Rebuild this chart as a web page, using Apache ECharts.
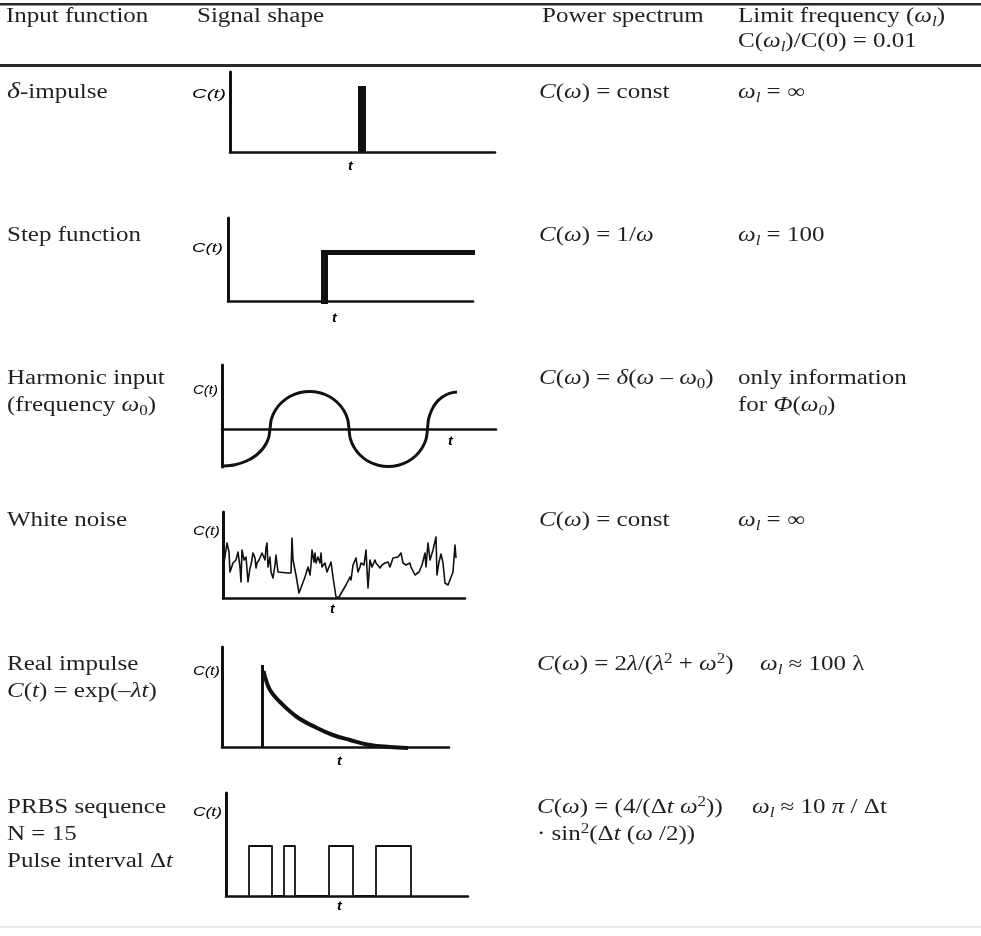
<!DOCTYPE html>
<html>
<head>
<meta charset="utf-8">
<script src="https://cdn.jsdelivr.net/npm/echarts@6/dist/echarts.min.js"></script>
<style>
  html, body { margin: 0; padding: 0; background: #fff; }
  #chart { width: 981px; height: 936px; }
</style>
</head>
<body>
<div id="chart"></div>
<script>
// ---------- signal sketches: [t, C(t)] in each sketch's own axis units ----------
const deltaSpike = [[132, -1], [132, 66]];
const stepRise = [[96.5, -3], [96.5, 51]];
const stepLevel = [[96.5, 48.5], [247, 48.5]];
const harmonicWave = [
  [1, -37], [13.2, -35.7], [24.5, -32], [34.2, -26.2], [41.7, -18.5], [46.4, -9.6], [48, 0],
  [49.3, 9.7], [53.3, 18.8], [59.6, 26.5], [67.8, 32.5], [77.3, 36.2], [87.5, 37.5], [97.7, 36.2],
  [107.3, 32.5], [115.4, 26.5], [121.7, 18.8], [125.7, 9.7], [127, 0],
  [128.3, -9.7], [132.3, -18.8], [138.5, -26.5], [146.6, -32.5], [156.1, -36.2], [166.3, -37.5], [176.4, -36.2],
  [185.9, -32.5], [194, -26.5], [200.2, -18.8], [204.2, -9.7], [205.5, 0],
  [206.5, 9.6], [209.5, 18.5], [214.1, 26.2], [220.3, 32], [227.4, 35.7], [235, 37]
];
const whiteNoise = [
  [1, 35], [4, 55], [6, 46], [7, 26], [10, 35], [13, 38], [15, 46], [17, 31], [18, 16], [19, 48], [21, 38],
  [23, 41], [25, 16], [27, 30], [28, 33], [30, 45], [32, 40], [33, 30], [34, 35], [36, 38], [37, 36], [39, 45],
  [42, 38], [43, 50], [44, 55], [45, 31], [47, 41], [48, 26], [50, 20], [52, 33], [53, 43], [55, 26], [57, 25],
  [65, 25], [68, 25], [69, 60], [70, 38], [73, 23], [76, 5], [82, 21], [85, 31], [87, 23], [88, 33], [89, 48],
  [91, 36], [92, 45], [93, 35], [95, 41], [97, 35], [98, 45], [99, 31], [102, 35], [104, 26], [106, 26],
  [108, 36], [110, 21], [113, 1], [116, 1], [123, 13], [127, 21], [128, 18], [130, 33], [133, 40], [135, 26],
  [137, 31], [138, 35], [141, 33], [143, 48], [145, 10], [147, 38], [149, 31], [152, 38], [153, 35], [157, 30],
  [159, 33], [162, 35], [165, 36], [167, 31], [170, 40], [175, 41], [178, 45], [180, 35], [183, 33], [187, 35],
  [188, 31], [192, 23], [196, 26], [199, 33], [202, 45], [203, 31], [205, 55], [207, 38], [210, 48], [213, 61],
  [214, 23], [216, 36], [218, 44], [220, 35], [222, 15], [225, 13], [230, 26], [232, 53], [233, 40]
];
const realImpulseEdge = [[40.5, 0], [40.5, 82]];
const realImpulseDecay = [
  [41.5, 76], [43, 70], [48, 57], [58, 45], [75, 30], [95, 19], [111, 12], [128, 7], [148, 2], [168, 0], [186, -1]
];
const prbsPulses = [[23, 46], [58, 69], [103, 127], [150, 185]];
const prbsLevel = 50;

// ---------- table text ----------
const headerTitles = ['Input function', 'Signal shape', 'Power spectrum', 'Limit frequency ({i|ω}{si|l})'];
const headerSubtitle = 'C({i|ω}{si|l})/C(0) = 0.01';
const inputFunctions = [
  ['{b|δ}-impulse'],
  ['Step function'],
  ['Harmonic input', '(frequency {i|ω}{s|0})'],
  ['White noise'],
  ['Real impulse', '{i|C}({i|t}) = exp(–{i|λt})'],
  ['PRBS sequence', 'N = 15', 'Pulse interval Δ{i|t}']
];
const powerSpectra = [
  ['{i|C}({i|ω}) = const'],
  ['{i|C}({i|ω}) = 1/{i|ω}'],
  ['{i|C}({i|ω}) = {i|δ}({i|ω} – {i|ω}{s|0})'],
  ['{i|C}({i|ω}) = const'],
  ['{i|C}({i|ω}) = 2{i|λ}/({i|λ}{p|2} + {i|ω}{p|2})'],
  ['{i|C}({i|ω}) = (4/(Δ{i|t} {i|ω}{p|2}))', '· sin{p|2}(Δ{i|t} ({i|ω} /2))']
];
const limitFrequencies = [
  ['{i|ω}{si|l} = ∞'],
  ['{i|ω}{si|l} = 100'],
  ['only information', 'for {i|Φ}({i|ω}{si|0})'],
  ['{i|ω}{si|l} = ∞'],
  ['{i|ω}{si|l} ≈ 100 λ'],
  ['{i|ω}{si|l} ≈ 10 {i|π} / Δt']
];
const axisNameC = 'C(t)';
const axisNameT = 't';

// ---------- layout ----------
const INK = '#231f20';
const LINE = '#111';
const SERIF = '"Liberation Serif", "Times New Roman", serif';
const SANS = '"Liberation Sans", Arial, sans-serif';
const rowBaselines = [99, 242, 385, 527, 671, 814];
const lineGap = 27;
const colX = [7, 539, 738];
const colIndent = [[0, 0, 0, 0, 0, 0], [0, 0, 0, 0, -2, -2], [0, 0, 0, 0, 22, 14]];

// sketch boxes: pixel box + axis ranges
const boxes = [
  { left: 230, top: 72, width: 265, height: 80, xMax: 265, yMin: 0, yMax: 80 },
  { left: 228, top: 218, width: 245, height: 83, xMax: 245, yMin: 0, yMax: 83 },
  { left: 222, top: 365, width: 274, height: 102, xMax: 274, yMin: -38, yMax: 64 },
  { left: 223, top: 512, width: 242, height: 86, xMax: 242, yMin: 0, yMax: 86 },
  { left: 222, top: 647, width: 227, height: 100, xMax: 227, yMin: 0, yMax: 100 },
  { left: 226, top: 793, width: 242, height: 103, xMax: 242, yMin: 0, yMax: 103 }
];
const cLabelPos = [[192, 94, 34], [192, 248, 31], [193, 390, 25], [193, 531, 27], [193, 671, 27], [193, 812, 29]];
const tLabelPos = [[348, 167], [332, 319], [448, 442], [330, 610], [337, 762], [337, 907]];

// ---------- text builder (markup: {i|..} italic, {s|..} sub, {si|..} italic sub, {p|..} sup, {b|..} large italic) ----------
const measureCtx = document.createElement('canvas').getContext('2d');
const KINDS = {
  n: { italic: false, scale: 1, shift: 0 },
  i: { italic: true, scale: 1, shift: 0 },
  b: { italic: true, scale: 1.12, shift: 0 },
  s: { italic: false, scale: 0.68, shift: 0.2 },
  si: { italic: true, scale: 0.68, shift: 0.2 },
  p: { italic: false, scale: 0.68, shift: -0.36 }
};
function parseMarkup(str) {
  const out = [];
  const re = /\{(\w+)\|([^}]*)\}/g;
  let last = 0, m;
  while ((m = re.exec(str))) {
    if (m.index > last) out.push(['n', str.slice(last, m.index)]);
    out.push([m[1], m[2]]);
    last = re.lastIndex;
  }
  if (last < str.length) out.push(['n', str.slice(last)]);
  return out;
}
function textLine(str, x, baseline, opts) {
  opts = opts || {};
  const size = opts.size || 20;
  const family = opts.family || SERIF;
  const weight = opts.bold ? 'bold ' : '';
  const children = [];
  let cx = 0;
  for (const [k, t] of parseMarkup(str)) {
    const kind = KINDS[k];
    const fs = size * kind.scale;
    const font = (kind.italic || opts.italic ? 'italic ' : '') + weight + fs + 'px ' + family;
    measureCtx.font = font;
    const w = measureCtx.measureText(t).width;
    children.push({
      type: 'text', x: cx, y: kind.shift * size - 0.32 * fs,
      style: { text: t, font: font, fill: opts.fill || INK, align: 'left', verticalAlign: 'middle' }
    });
    cx += w;
  }
  const scaleX = opts.width ? opts.width / cx : (opts.scaleX || 1.25);
  return { type: 'group', x: x, y: baseline, scaleX: scaleX, silent: true, children: children };
}

// ---------- graphic layer: rules and table text ----------
const graphic = [
  { type: 'rect', shape: { x: 0, y: 3, width: 981, height: 2.5 }, style: { fill: '#2a2a2a' }, silent: true },
  { type: 'rect', shape: { x: 0, y: 64, width: 981, height: 3 }, style: { fill: '#2a2a2a' }, silent: true },
  { type: 'rect', shape: { x: 0, y: 926.5, width: 981, height: 1 }, style: { fill: '#d4d4d4' }, silent: true }
];
const headerX = [6, 197, 542, 738];
headerTitles.forEach((t, i) => graphic.push(textLine(t, headerX[i], 23)));
graphic.push(textLine(headerSubtitle, 738, 48));

[inputFunctions, powerSpectra, limitFrequencies].forEach((col, ci) => {
  col.forEach((lines, ri) => {
    lines.forEach((t, li) => {
      graphic.push(textLine(t, colX[ci] + colIndent[ci][ri], rowBaselines[ri] + li * lineGap));
    });
  });
});

cLabelPos.forEach(([x, y, w]) => {
  graphic.push(textLine(axisNameC, x, y + 4, { size: 12, family: SANS, italic: true, width: w, fill: '#000' }));
});
tLabelPos.forEach(([x, y]) => {
  graphic.push(textLine(axisNameT, x, y + 4, { size: 13, family: SANS, italic: true, bold: true, scaleX: 1.1, fill: '#000' }));
});

// ---------- sketches ----------
const grids = [], xAxes = [], yAxes = [], series = [];
boxes.forEach((b, i) => {
  grids.push({ left: b.left, top: b.top, width: b.width, height: b.height, containLabel: false });
  const common = { gridIndex: i, axisTick: { show: false }, axisLabel: { show: false }, splitLine: { show: false } };
  xAxes.push(Object.assign({}, common, {
    type: 'value', min: 0, max: b.xMax,
    axisLine: { show: true, onZero: true, lineStyle: { color: LINE, width: 2.5 } }
  }));
  yAxes.push(Object.assign({}, common, {
    type: 'value', min: b.yMin, max: b.yMax,
    axisLine: { show: true, onZero: true, lineStyle: { color: LINE, width: 3 } }
  }));
});
function trace(idx, data, width, smooth) {
  series.push({
    type: 'line', xAxisIndex: idx, yAxisIndex: idx, data: data,
    symbol: 'none', clip: false, silent: true, animation: false, smooth: smooth || false,
    lineStyle: { color: LINE, width: width, cap: 'butt', join: 'round' }
  });
}
trace(0, deltaSpike, 8);
trace(1, stepRise, 7);
trace(1, stepLevel, 5);
trace(2, harmonicWave, 3, 0.3);
trace(3, whiteNoise, 1.6);
trace(4, realImpulseEdge, 3);
trace(4, realImpulseDecay, 4, 0.4);
const prbsTrace = [];
prbsPulses.forEach(([a, b]) => {
  prbsTrace.push([a, 0], [a, prbsLevel], [b, prbsLevel], [b, 0]);
});
trace(5, prbsTrace, 1.8);

const chart = echarts.init(document.getElementById('chart'), null, { renderer: 'canvas' });
chart.setOption({
  backgroundColor: '#fff',
  animation: false,
  grid: grids,
  xAxis: xAxes,
  yAxis: yAxes,
  series: series,
  graphic: graphic
});
</script>
</body>
</html>
